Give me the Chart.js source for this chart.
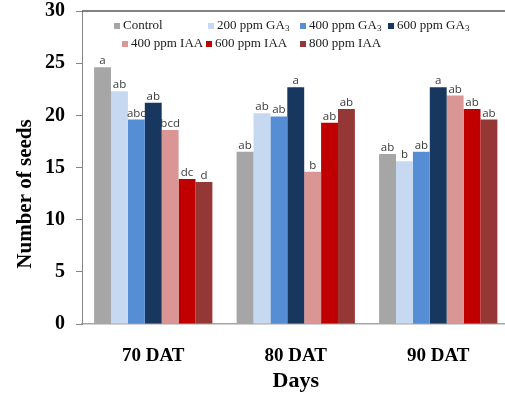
<!DOCTYPE html>
<html>
<head>
<meta charset="utf-8">
<title>Number of seeds</title>
<script src="https://cdn.jsdelivr.net/npm/chart.js@4.4.0/dist/chart.umd.min.js"></script>
<style>
  html, body { margin: 0; padding: 0; background: #ffffff; overflow: hidden; }
  #wrap { width: 512px; height: 400px; }
</style>
</head>
<body>
<div id="wrap"><canvas id="c" width="512" height="400"></canvas></div>
<script>
// Sampling dates and treatments
const categories = ['70 DAT', '80 DAT', '90 DAT'];
const treatments = ['Control', '200 ppm GA₃', '400 ppm GA₃', '600 ppm GA₃', '400 ppm IAA', '600 ppm IAA', '800 ppm IAA'];

// Mean number of seeds per treatment, one value per date
const control = [24.6, 16.5, 16.3];
const ga200   = [22.3, 20.2, 15.6];
const ga400   = [19.6, 19.9, 16.5];
const ga600   = [21.2, 22.7, 22.7];
const iaa400  = [18.6, 14.6, 21.9];
const iaa600  = [13.9, 19.3, 20.6];
const iaa800  = [13.6, 20.6, 19.6];

// Significance letters shown above the bars
const controlLetters = ['a', 'ab', 'ab'];
const ga200Letters   = ['ab', 'ab', 'b'];
const ga400Letters   = ['abc', 'ab', 'ab'];
const ga600Letters   = ['ab', 'a', 'a'];
const iaa400Letters  = ['bcd', 'b', 'ab'];
const iaa600Letters  = ['dc', 'ab', 'ab'];
const iaa800Letters  = ['d', 'ab', 'ab'];

// Value axis
const yTicks = [0, 5, 10, 15, 20, 25, 30];
const yTitle = 'Number of seeds';
const xTitle = 'Days';

const seriesValues = [control, ga200, ga400, ga600, iaa400, iaa600, iaa800];
const seriesLetters = [controlLetters, ga200Letters, ga400Letters, ga600Letters, iaa400Letters, iaa600Letters, iaa800Letters];
const palette = ['#A6A6A6', '#C6D9F1', '#558ED5', '#17375E', '#D99694', '#C00000', '#953735'];

const SERIF = '"Liberation Serif", "Times New Roman", serif';

// Legend grid: [box left x, row centre y]
const legendSlots = [[114, 26], [208, 26], [300, 26], [388, 26], [122, 44], [206, 44], [300, 44]];

function drawLabelWithSub(ctx, text, x, y, size) {
  // renders "₃" as a small lowered 3
  const parts = text.split('₃');
  ctx.font = size + 'px ' + SERIF;
  ctx.fillText(parts[0], x, y);
  if (parts.length > 1) {
    const w = ctx.measureText(parts[0]).width;
    ctx.font = Math.round(size * 0.68) + 'px ' + SERIF;
    ctx.fillText('3', x + w, y + 3);
  }
}

const decorPlugin = {
  id: 'decor',
  afterDraw(chart) {
    const ctx = chart.ctx;
    const area = chart.chartArea;
    ctx.save();

    // frame line along the top of the plot
    ctx.strokeStyle = '#595959';
    ctx.lineWidth = 1.5;
    ctx.beginPath();
    ctx.moveTo(area.left, area.top);
    ctx.lineTo(chart.width, area.top);
    ctx.stroke();

    // letters above bars
    ctx.fillStyle = '#3a3a3a';
    ctx.font = '11.5px "Open Sans", "DejaVu Sans", sans-serif';
    ctx.textAlign = 'center';
    ctx.textBaseline = 'alphabetic';
    chart.data.datasets.forEach((ds, di) => {
      const meta = chart.getDatasetMeta(di);
      meta.data.forEach((bar, i) => {
        ctx.fillText(seriesLetters[di][i], bar.x, bar.y - 3);
      });
    });

    // legend
    ctx.textAlign = 'left';
    ctx.textBaseline = 'middle';
    chart.data.datasets.forEach((ds, di) => {
      const [bx, by] = legendSlots[di];
      ctx.fillStyle = ds.backgroundColor;
      ctx.fillRect(bx, by - 3, 6, 6);
      ctx.fillStyle = '#1a1a1a';
      drawLabelWithSub(ctx, ds.label, bx + 9, by, 13);
    });

    // axis titles
    ctx.fillStyle = '#000000';
    ctx.textAlign = 'center';
    ctx.textBaseline = 'alphabetic';
    ctx.font = 'bold 22px ' + SERIF;
    ctx.fillText(xTitle, (area.left + area.right) / 2, 387);

    ctx.translate(31, 194);
    ctx.rotate(-Math.PI / 2);
    ctx.font = 'bold 21px ' + SERIF;
    ctx.fillText(yTitle, 0, 0);
    ctx.restore();
  }
};

new Chart(document.getElementById('c'), {
  type: 'bar',
  data: {
    labels: categories,
    datasets: treatments.map((name, i) => ({
      label: name,
      data: seriesValues[i],
      backgroundColor: palette[i],
      borderWidth: 0,
      barPercentage: 1.0,
      categoryPercentage: 0.83
    }))
  },
  options: {
    responsive: false,
    devicePixelRatio: 1,
    animation: false,
    layout: { padding: { left: 0, right: 2.5, top: 11, bottom: 0 } },
    plugins: {
      legend: { display: false },
      tooltip: { enabled: false }
    },
    scales: {
      x: {
        grid: { display: false },
        border: { display: true, color: '#A6A6A6', width: 1.5 },
        ticks: {
          color: '#000000',
          font: { family: SERIF, size: 19, weight: 'bold' },
          padding: 13
        },
        afterFit(scale) { scale.height = 76; scale.paddingLeft = 0; scale.paddingRight = 0; }
      },
      y: {
        min: 0,
        max: 30,
        afterBuildTicks(scale) { scale.ticks = yTicks.map(v => ({ value: v })); },
        grid: { display: true, drawOnChartArea: false, drawTicks: true, tickLength: 6, color: '#868686' },
        border: { display: true, color: '#868686', width: 1 },
        ticks: {
          color: '#000000',
          font: { family: SERIF, size: 20, weight: 'bold' },
          padding: 11
        },
        afterFit(scale) { scale.width = 82; scale.paddingTop = 0; scale.paddingBottom = 0; }
      }
    }
  },
  plugins: [decorPlugin]
});
</script>
</body>
</html>
